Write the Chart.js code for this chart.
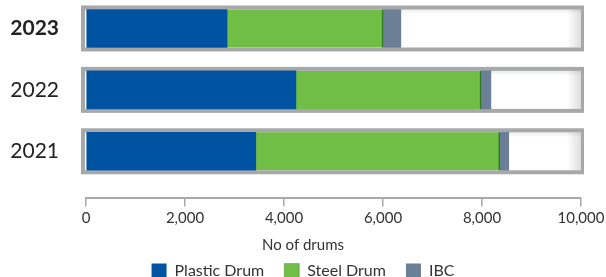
<!DOCTYPE html>
<html lang="en">
<head>
<meta charset="UTF-8">
<title>No of drums</title>
<style>
  html, body { margin: 0; padding: 0; background: #fff; overflow: hidden; }
  .chart-container { position: relative; width: 606px; height: 289px; }
</style>
</head>
<body>
<div class="chart-container"><canvas id="drums"></canvas></div>
<script src="https://cdn.jsdelivr.net/npm/chart.js@4/dist/chart.umd.min.js"></script>
<script>
// data
const years = ['2023', '2022', '2021'];
const boldYear = '2023';
const plasticDrum = [2850, 4240, 3430];
const steelDrum = [3150, 3740, 4930];
const ibc = [360, 200, 180];
const xMax = 10000;

const GRAY = '#a7a8aa';
const FONT = 'Lato';

// grey "track" boxes behind each bar
const trackPlugin = {
    id: 'tracks',
    beforeDatasetsDraw(chart) {
        const { ctx, scales: { x, y } } = chart;
        const x0 = x.getPixelForValue(0);
        const x1 = x.getPixelForValue(xMax);
        ctx.save();
        years.forEach(yr => {
            const cy = y.getPixelForValue(Number(yr));
            ctx.fillStyle = GRAY;
            ctx.fillRect(x0 - 5, cy - 23, x1 - x0 + 8, 46);
            ctx.fillStyle = '#fff';
            ctx.fillRect(x0 - 1, cy - 19, x1 - x0 + 1, 38);
            // soft inner shadow on the right and top
            const g = ctx.createLinearGradient(x1 - 14, 0, x1, 0);
            g.addColorStop(0, 'rgba(0,0,0,0)');
            g.addColorStop(1, 'rgba(0,0,0,0.13)');
            ctx.fillStyle = g;
            ctx.fillRect(x1 - 14, cy - 19, 14, 38);
            const t = ctx.createLinearGradient(0, cy - 19, 0, cy - 14);
            t.addColorStop(0, 'rgba(0,0,0,0.08)');
            t.addColorStop(1, 'rgba(0,0,0,0)');
            ctx.fillStyle = t;
            ctx.fillRect(x0 - 1, cy - 19, x1 - x0 + 1, 5);
        });
        ctx.restore();
    }
};

const ctx = document.getElementById('drums').getContext('2d');
const chart = new Chart(ctx, {
    type: 'bar',
    data: {
        labels: years,
        datasets: [
            {
                label: 'Plastic Drum',
                data: plasticDrum,
                backgroundColor: '#0053a1',
                borderWidth: 0
            },
            {
                label: 'Steel Drum',
                data: steelDrum,
                backgroundColor: '#70be46',
                borderColor: '#2f7a1c',
                borderWidth: { top: 0, right: 1.5, bottom: 0, left: 0 },
                borderSkipped: false
            },
            {
                label: 'IBC',
                data: ibc,
                backgroundColor: '#6b7f96',
                borderWidth: 0
            }
        ]
    },
    options: {
        indexAxis: 'y',
        responsive: true,
        maintainAspectRatio: false,
        animation: false,
        barThickness: 38,
        layout: { padding: 0 },
        scales: {
            x: {
                stacked: true,
                min: 0,
                max: xMax,
                afterFit(scale) { scale.paddingRight = 25; },
                grid: {
                    drawOnChartArea: false,
                    drawTicks: true,
                    tickLength: 9,
                    color: GRAY,
                    lineWidth: 1.5
                },
                border: { display: true, color: GRAY, width: 2 },
                ticks: {
                    stepSize: 2000,
                    padding: 3,
                    color: '#333',
                    font: { family: FONT, size: 15 },
                    callback: v => v.toLocaleString('en-US')
                }
            },
            y: {
                type: 'linear',
                stacked: true,
                offset: false,
                min: 2020.247,
                max: 2023.464,
                grid: { display: false, drawTicks: false, offset: false },
                border: { display: false },
                afterFit(scale) {
                    scale.width = 86;
                    scale.paddingTop = 0;
                    scale.paddingBottom = 0;
                },
                afterBuildTicks(scale) {
                    scale.ticks = years.map(v => ({ value: Number(v) }));
                },
                ticks: {
                    padding: 27,
                    color: '#222',
                    font: c => ({
                        family: FONT,
                        size: 21,
                        weight: c.tick && String(c.tick.value) === boldYear ? 'bold' : 'normal'
                    }),
                    callback: v => String(v)
                }
            }
        },
        plugins: {
            title: {
                display: true,
                text: 'No of drums',
                position: 'bottom',
                weight: 500,
                color: '#333',
                font: { family: FONT, size: 15, weight: 'normal', lineHeight: 1 },
                padding: { top: 7.5, bottom: -10 }
            },
            legend: {
                position: 'bottom',
                labels: {
                    boxWidth: 15,
                    boxHeight: 15,
                    padding: 20,
                    color: '#333',
                    font: { family: FONT, size: 16 }
                }
            },
            tooltip: { enabled: false }
        }
    },
    plugins: [trackPlugin]
});
</script>
</body>
</html>
